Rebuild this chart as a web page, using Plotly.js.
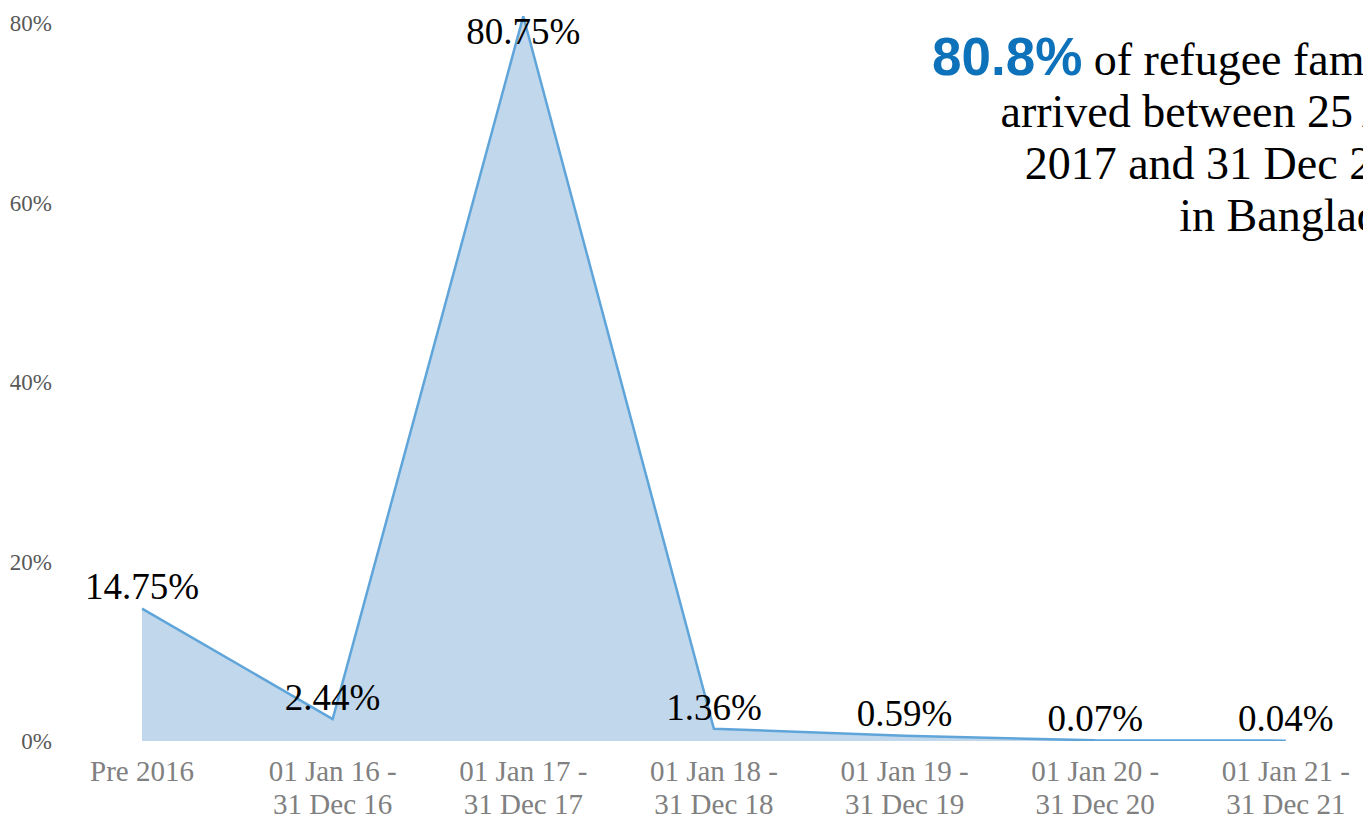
<!DOCTYPE html>
<html>
<head>
<meta charset="utf-8">
<script src="https://cdn.plot.ly/plotly-3.0.1.min.js"></script>
<style>html,body{margin:0;padding:0;background:#fff;}#chart{width:1363px;height:818px;}</style>
</head>
<body>
<div id="chart"></div>
<script>
const categories = ["Pre 2016", "01 Jan 16 -<br>31 Dec 16", "01 Jan 17 -<br>31 Dec 17", "01 Jan 18 -<br>31 Dec 18", "01 Jan 19 -<br>31 Dec 19", "01 Jan 20 -<br>31 Dec 20", "01 Jan 21 -<br>31 Dec 21"];
const shares = [14.75, 2.44, 80.75, 1.36, 0.59, 0.07, 0.04];
const yTickValues = [0, 20, 40, 60, 80];
const yTickLabels = ["0%", "20%", "40%", "60%", "80%"];
const headlineValue = "80.8%";
const headlineText = ["of refugee families", "arrived between 25 Aug", "2017 and 31 Dec 2017", "in Bangladesh"];

const labelPositions = shares.map(v => v === Math.max(...shares) ? "bottom center" : "top center");

const big = s => '<span style="font-size:29px">' + s + '</span>';
const xTickText = categories.map(c => c.split("<br>").map(big).join("<br>"));

const serif = "Liberation Serif, Times New Roman, serif";

const trace = {
  type: "scatter",
  mode: "lines+text",
  x: categories,
  y: shares,
  fill: "tozeroy",
  fillcolor: "#C0D7EC",
  line: {color: "#5FA5DA", width: 2.5},
  text: shares.map(v => v.toFixed(2) + "%"),
  textposition: labelPositions,
  textfont: {family: serif, size: 37, color: "#000000"},
  cliponaxis: false,
  hoverinfo: "skip"
};

const seg = s => '<span style="font-size:46px">' + s + '</span>';
const headline = '<span style="font-family:Liberation Sans, Arial, sans-serif;font-weight:bold;font-size:53px;color:#0E72BA">' + headlineValue + '</span>' + seg(' ' + headlineText[0]) + '<br>' + headlineText.slice(1).map(seg).join('<br>');

const layout = {
  width: 1363,
  height: 818,
  margin: {l: 53, r: 20, t: 14, b: 77},
  paper_bgcolor: "#ffffff",
  plot_bgcolor: "#ffffff",
  showlegend: false,
  xaxis: {
    type: "category",
    range: [-0.467, 6.3],
    tickvals: categories,
    ticktext: xTickText,
    showgrid: false,
    zeroline: false,
    showline: false,
    ticks: "",
    ticklabelstandoff: 14,
    tickfont: {family: serif, size: 25, color: "#808080"}
  },
  yaxis: {
    range: [0, 81],
    tickvals: yTickValues,
    ticktext: yTickLabels,
    showgrid: false,
    zeroline: false,
    showline: false,
    ticks: "",
    tickfont: {family: serif, size: 23, color: "#595959"}
  },
  annotations: [{
    xref: "paper", yref: "paper",
    x: 1.0772, y: 0.985,
    xanchor: "right", yanchor: "top",
    align: "right",
    showarrow: false,
    font: {family: serif, size: 40, color: "#000000"},
    text: headline
  }]
};

Plotly.newPlot("chart", [trace], layout, {displayModeBar: false, staticPlot: true});
</script>
</body>
</html>
